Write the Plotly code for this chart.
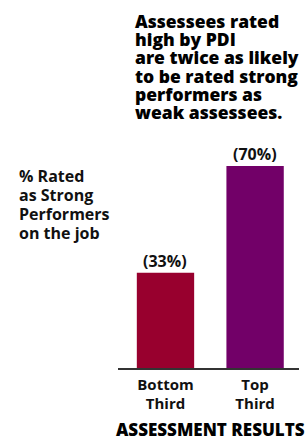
import plotly.graph_objects as go

categories = ["Bottom<br>Third", "Top<br>Third"]
values = [33, 70]
value_labels = ["(33%)", "(70%)"]
bar_colors = ["#98002E", "#720068"]

title_lines = ["Assessees rated", "high by PDI", "are twice as likely",
               "to be rated strong", "performers as", "weak assessees."]
ylabel_lines = ["% Rated", "as Strong", "Performers", "on the job"]
xtitle = "ASSESSMENT RESULTS"

W, H = 306, 440
L, R, T, B = 118, 7, 137, 72
PW, PH = W - L - R, H - T - B

def px(x):
    return (x - L) / PW

def py(y):
    return (H - B - y) / PH

FONT = "Open Sans"

fig = go.Figure(go.Bar(
    x=[0, 1], y=values, marker=dict(color=bar_colors, line=dict(width=0)),
    width=0.64, hoverinfo="skip"))

ann = []
for i, t in enumerate(title_lines):
    base = 28 + 18.1 * i
    ann.append(dict(text=t, xref="paper", yref="paper", x=px(134), y=py(base - 6.8),
                    xanchor="left", yanchor="middle", showarrow=False, borderpad=0,
                    font=dict(family=FONT, size=17.5, color="#000", weight=800)))
for i, t in enumerate(ylabel_lines):
    base = 182 + 19 * i
    ann.append(dict(text=t, xref="paper", yref="paper", x=px(18), y=py(base - 6.2),
                    xanchor="left", yanchor="middle", showarrow=False, borderpad=0,
                    font=dict(family=FONT, size=16, color="#111", weight=700)))
for i, (v, lab) in enumerate(zip(values, value_labels)):
    ann.append(dict(text=lab, xref="x", yref="y", x=i, y=v, yshift=0,
                    xanchor="center", yanchor="bottom", showarrow=False, borderpad=0,
                    font=dict(family=FONT, size=16, color="#111", weight=700)))
ann.append(dict(text=xtitle, xref="paper", yref="paper", x=px(210), y=py(436 - 6.5),
                xanchor="center", yanchor="middle", showarrow=False, borderpad=0,
                font=dict(family=FONT, size=17, color="#000", weight=800)))

fig.update_layout(
    width=W, height=H, margin=dict(l=L, r=R, t=T, b=B, pad=0),
    paper_bgcolor="white", plot_bgcolor="white", showlegend=False,
    annotations=ann,
    xaxis=dict(range=[-0.53, 1.49], tickvals=[0, 1], ticktext=categories,
               showgrid=False, zeroline=False, showline=True, linecolor="#333",
               linewidth=1.5, ticks="", ticklabelstandoff=2,
               tickfont=dict(family=FONT, size=15, color="#111", weight=700)),
    yaxis=dict(range=[0, 80], visible=False),
)

fig.write_html("out.html", config={"displayModeBar": False},
               post_script="document.body.style.margin='0';")
